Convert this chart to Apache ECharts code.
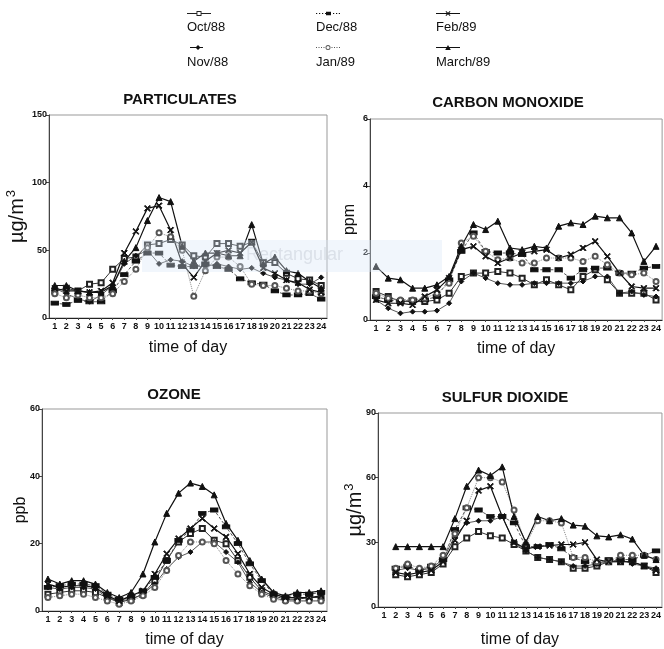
<!DOCTYPE html>
<html>
<head>
<meta charset="utf-8">
<style>
html,body{margin:0;padding:0;background:#fff;}
#chart{width:664px;height:649px;}
</style>
<script src="https://cdn.jsdelivr.net/npm/echarts@6/dist/echarts.min.js"></script>
</head>
<body>
<div id="chart"></div>
<script>
// ---- data ----
const hours = ['1','2','3','4','5','6','7','8','9','10','11','12','13','14','15','16','17','18','19','20','21','22','23','24'];
const seriesNames = ['Oct/88','Nov/88','Dec/88','Jan/89','Feb/89','March/89'];
const panelTitles = ['PARTICULATES','CARBON MONOXIDE','OZONE','SULFUR DIOXIDE'];

// Particulates (µg/m3)
const partOct = [20,22,20,25,26,36,44,45,54,55,58,54,46,45,55,55,53,56,41,41,33,29,28,24];
const partNov = [22,18,14,12,17,24,40,46,50,40,43,42,38,38,40,38,36,37,33,30,28,25,25,30];
const partDec = [11,10,13,12,12,20,32,42,48,48,39,38,38,40,38,36,29,26,25,20,17,17,18,14];
const partJan = [18,15,17,15,15,18,27,36,52,63,60,50,16,35,45,45,38,25,24,24,22,20,20,18];
const partFeb = [22,20,20,19,20,26,48,64,81,83,65,40,30,42,48,50,48,56,37,33,28,26,21,19];
const partMar = [24,24,20,19,19,24,42,52,72,89,86,53,42,48,48,46,46,69,40,45,35,33,27,22];

// Carbon monoxide (ppm)
const coOct = [0.85,0.7,0.55,0.55,0.55,0.6,0.8,1.3,1.4,1.4,1.45,1.4,1.25,1.05,1.2,1.05,0.9,1.3,1.5,1.2,0.8,0.8,0.8,0.6];
const coNov = [0.6,0.35,0.2,0.25,0.25,0.28,0.5,1.15,1.4,1.25,1.1,1.05,1.05,1.1,1.1,1.1,1.1,1.15,1.3,1.3,0.8,0.85,0.75,0.7];
const coDec = [0.7,0.6,0.55,0.6,0.6,0.7,1.2,2.05,2.6,2.05,2.0,2.0,1.95,1.5,1.5,1.5,1.25,1.5,1.55,1.55,1.4,1.4,1.55,1.6];
const coJan = [0.8,0.65,0.6,0.6,0.65,0.8,1.1,2.3,2.5,2.05,1.8,1.85,1.7,1.7,1.85,1.85,1.85,1.75,1.9,1.65,1.4,1.35,1.4,1.15];
const coFeb = [0.6,0.5,0.5,0.45,0.7,0.9,1.25,2.1,2.2,1.9,1.7,1.85,2.0,2.05,2.1,1.85,1.95,2.15,2.35,1.9,1.4,1.0,0.95,0.95];
const coMar = [1.6,1.25,1.2,0.95,0.95,1.05,1.3,2.2,2.85,2.7,2.95,2.15,2.1,2.2,2.15,2.8,2.9,2.85,3.1,3.05,3.05,2.6,1.75,2.2];

// Ozone (ppb)
const ozOct = [5,5.5,6,6,5.5,4,2.5,3.5,5,9,15,20.5,23,24.5,21,20,15,10,6,4.5,3.5,3.5,4,4];
const ozNov = [7,6.5,7,7,6.5,4,3,3.5,5,8,12.5,16,17.5,20.5,20.5,17.5,14.5,8.5,5.5,4,3,3,3,3];
const ozDec = [7,7.5,8,8,7.5,5,3.5,4,6,10,15,21,24,29,30,25,20,14,9,5,4,5,5,5.5];
const ozJan = [4,4.5,5,5,4,3,2,3,4.5,7,12,16.5,20.5,20.5,20,15,11,7.5,5,3.5,3,3,3,3];
const ozFeb = [8,7,7.5,7.5,7,4.5,3,4.5,6,11,17,21.5,24.5,27.5,24.5,22,17,11,7,5,4,4,4,4.5];
const ozMar = [9.5,8,9,9,8,5.5,4,5.5,11,20.5,29,35,38,37,34.5,26,21,15,9.5,5.5,4.5,5.5,5.5,6];

// Sulfur dioxide (µg/m3), no reading at hour 1
const soOct = [null,15,14,15,16,20,28,32,35,33,32,29,26,23,22,21,18,18,19,21,21,21,19,16];
const soNov = [null,17,18,17,18,22,33,39,40,40,42,30,26,23,22,21,19,19,20,21,22,20,19,18];
const soDec = [null,18,19,17,19,22,36,46,45,42,42,39,28,28,29,27,23,21,20,22,22,22,24,26];
const soJan = [null,18,20,18,19,24,34,46,60,60,58,45,29,40,40,39,23,23,21,21,24,24,24,22];
const soFeb = [null,16,15,16,17,21,31,40,54,56,42,30,27,28,28.5,29,29,30,22,21,21,21,19,17];
const soMar = [null,28,28,28,28,28,41,56,63.5,61,65,42,30,42,40,41,38,37.5,33,32.5,33.5,31.5,24,22];

const yMax = [150, 6, 60, 90];
const yStep = [50, 2, 20, 30];
const yNames = ['{b|µg/m}{s|3}', '{p|ppm}', '{p|ppb}', '{b|µg/m}{s|3}'];

const panelData = [
  [partOct, partNov, partDec, partJan, partFeb, partMar],
  [coOct, coNov, coDec, coJan, coFeb, coMar],
  [ozOct, ozNov, ozDec, ozJan, ozFeb, ozMar],
  [soOct, soNov, soDec, soJan, soFeb, soMar]
];

// ---- styles ----
const FONT = 'Liberation Sans, Arial, Helvetica, sans-serif';
const xPath = 'path://M0,1.2L1.2,0L5,3.8L8.8,0L10,1.2L6.2,5L10,8.8L8.8,10L5,6.2L1.2,10L0,8.8L3.8,5Z';
const seriesStyle = [
  {symbol:'emptyRect', symbolSize:5, color:'#222', line:{width:1, type:'solid', color:'#333'}},
  {symbol:'diamond', symbolSize:5, color:'#111', line:{width:0.9, type:'solid', color:'#444'}},
  {symbol:'rect', symbolSize:[7,4], color:'#111', line:{width:1, type:[3,2], color:'#555'}},
  {symbol:'emptyCircle', symbolSize:5, color:'#555', line:{width:1, type:'dotted', color:'#888'}},
  {symbol:xPath, symbolSize:6, color:'#111', line:{width:1.2, type:'solid', color:'#111'}},
  {symbol:'triangle', symbolSize:6, color:'#111', line:{width:1.2, type:'solid', color:'#111'}}
];
// legend key glyphs: short line with the series marker in its middle
const legendIcons = [
  'path://M0,2H9.5V3H0Z M14.5,2H24V3H14.5Z M9.5,0H14.5V5H9.5Z M10.4,0.9V4.1H13.6V0.9Z',
  'path://M0,2H13V3H0Z M8,0L10.5,2.5L8,5L5.5,2.5Z',
  'path://M0,2H1.2V3H0Z M3,2H4.2V3H3Z M6,2H7.2V3H6Z M9,2H10V3H9Z M10,0.8H15V4.2H10Z M17,2H18.2V3H17Z M20,2H21.2V3H20Z M22.8,2H24V3H22.8Z',
  'path://M0,2H1V3H0Z M2.5,2H3.5V3H2.5Z M5,2H6V3H5Z M7.5,2H8.5V3H7.5Z M15.5,2H16.5V3H15.5Z M18,2H19V3H18Z M20.5,2H21.5V3H20.5Z M23,2H24V3H23Z M9.5,2.5A2.5,2.5 0 1 1 14.5,2.5A2.5,2.5 0 1 1 9.5,2.5Z M10.4,2.5A1.6,1.6 0 1 0 13.6,2.5A1.6,1.6 0 1 0 10.4,2.5Z',
  'path://M0,2H24V3H0Z M9.5,0.7L10.2,0L12,1.8L13.8,0L14.5,0.7L12.7,2.5L14.5,4.3L13.8,5L12,3.2L10.2,5L9.5,4.3L11.3,2.5Z',
  'path://M0,2H24V3H0Z M12,0L14.8,5H9.2Z'
];
const legendIconW = [24, 13, 24, 24, 24, 24];
const legendIconX = [0, 3, 0, 0, 0, 0];

const grids = [
  {left:49, top:115, width:278, height:203},
  {left:370, top:119, width:294, height:201},
  {left:42, top:409, width:285, height:202},
  {left:378, top:413, width:286, height:201}
];
const xNameGap = [22, 21, 21, 25];
const yNameGap = [20, 11, 12, 11];
const titlePos = [[180,92],[508,95],[174,387],[505,390]];

const option = {
  animation: false,
  backgroundColor: '#fff',
  textStyle: {fontFamily: FONT},
  title: panelTitles.map((t,i)=>({
    text: t, left: titlePos[i][0], top: titlePos[i][1], textAlign:'center', padding:0,
    textStyle:{fontSize:15, fontWeight:'bold', color:'#111', fontFamily:FONT}
  })),
  grid: grids.map(g=>Object.assign({show:true, borderColor:'#999', borderWidth:1, backgroundColor:'transparent'}, g)),
  xAxis: grids.map((g,i)=>({
    type:'category', gridIndex:i, data:hours, boundaryGap:true,
    name:'time of day', nameLocation:'middle', nameGap:xNameGap[i], nameMoveOverlap:false,
    nameTextStyle:{fontSize:16, color:'#111', fontFamily:FONT},
    axisLine:{lineStyle:{color:'#222', width:1}},
    axisTick:{show:true, alignWithLabel:true, length:2, lineStyle:{color:'#444'}},
    axisLabel:{interval:0, fontSize:9, fontWeight:'bold', color:'#111', margin:4, fontFamily:FONT},
    splitLine:{show:false}
  })),
  yAxis: grids.map((g,i)=>({
    type:'value', gridIndex:i, min:0, max:yMax[i], interval:yStep[i],
    name:yNames[i], nameLocation:'middle', nameGap:yNameGap[i], nameMoveOverlap:false,
    nameTextStyle:{fontSize:16, color:'#111', fontFamily:FONT,
      rich:{b:{fontSize:20, color:'#111', fontFamily:FONT, lineHeight:24},
            s:{fontSize:13, color:'#111', fontFamily:FONT, verticalAlign:'top', padding:[0,0,0,1]},
            p:{fontSize:16, color:'#111', fontFamily:FONT, lineHeight:18}}},
    axisLine:{show:true, lineStyle:{color:'#444', width:1}},
    axisTick:{show:true, length:3, lineStyle:{color:'#444'}},
    axisLabel:{fontSize:9, fontWeight:'bold', color:'#111', margin:2, fontFamily:FONT},
    splitLine:{show:false}
  })),
  legend: [],
  series: [],
  graphic: [
    {type:'rect', left:142, top:240, z:100, silent:true,
     shape:{width:300, height:32}, style:{fill:'rgba(214,229,247,0.35)'}},
    {type:'text', left:246, top:246, z:101, silent:true,
     style:{text:'Rectangular', fontSize:18, fontFamily:FONT, fill:'rgba(170,175,190,0.3)'}}
  ]
};

// legends: key glyph row above the label row
const legCols = [187, 316, 436];
const iconTops = [11, 45];
const textTops = [21, 56];
seriesNames.forEach((name, k)=>{
  const col = Math.floor(k/2), row = k%2;
  option.legend.push({
    data:[name], left:legCols[col] + legendIconX[k], top:iconTops[row], padding:0,
    icon:legendIcons[k], itemWidth:legendIconW[k], itemHeight:5,
    itemStyle:{borderWidth:0}, formatter:()=>'', selectedMode:false,
    textStyle:{fontSize:1}
  });
  option.legend.push({
    data:[name], left:legCols[col]-5, top:textTops[row], padding:0,
    itemWidth:0, itemHeight:0, icon:'none', selectedMode:false,
    textStyle:{fontSize:13, color:'#111', fontFamily:FONT}
  });
});

panelData.forEach((arrs, p)=>{
  arrs.forEach((vals, k)=>{
    const st = seriesStyle[k];
    option.series.push({
      type:'line', name:seriesNames[k], xAxisIndex:p, yAxisIndex:p,
      data:vals, symbol:st.symbol, symbolSize:st.symbolSize, showAllSymbol:true,
      itemStyle:{color:st.color, borderColor:st.color, borderWidth:1},
      lineStyle:{width:st.line.width, type:st.line.type, color:st.line.color},
      emphasis:{disabled:true}
    });
  });
});

const chart = echarts.init(document.getElementById('chart'), null, {renderer:'canvas'});
chart.setOption(option);
</script>
</body>
</html>
